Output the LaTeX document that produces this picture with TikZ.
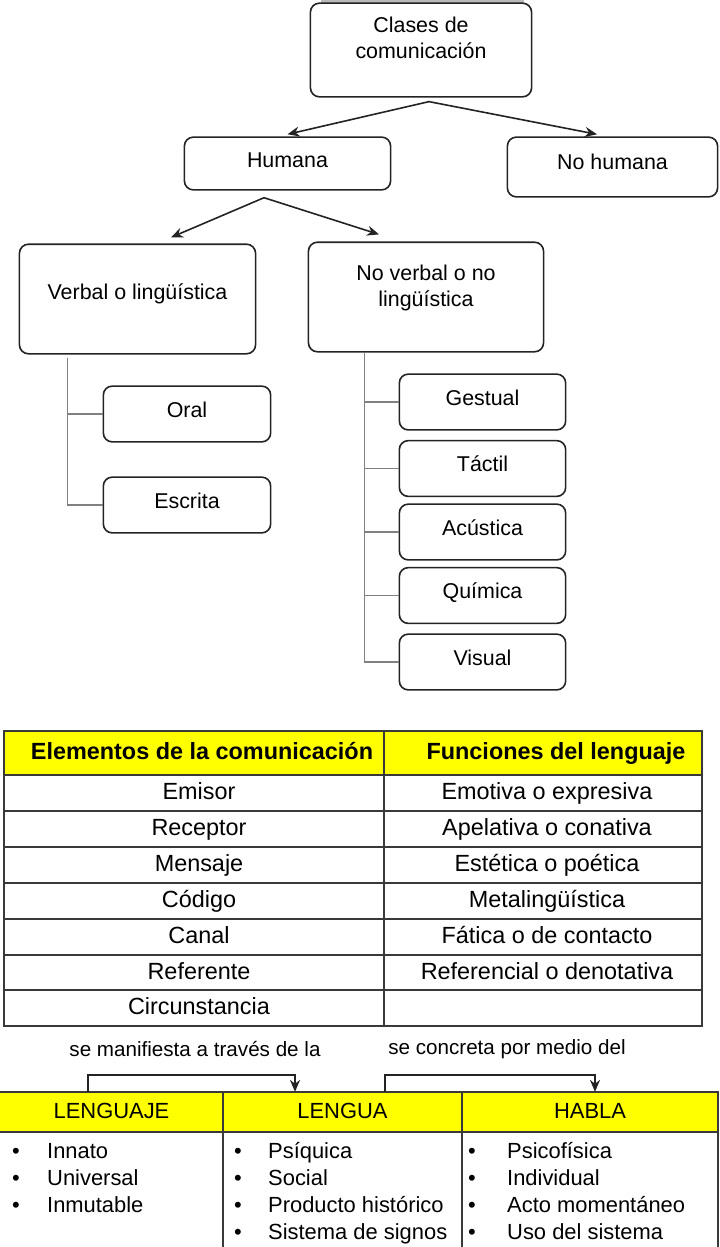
\documentclass[tikz,border=0pt]{standalone}
\usepackage{fontspec}
\setmainfont{Liberation Sans}
\usetikzlibrary{arrows.meta}
\definecolor{amarillo}{RGB}{255,255,0}
\definecolor{borde}{RGB}{35,35,35}
\tikzset{
  caja/.style={draw=borde, line width=1.6bp, rounded corners=9bp, align=center,
    font=\fontsize{21.5}{26}\selectfont},
  una/.style={text height=16bp, text depth=#1},
  rama/.style={draw=gray, line width=1.5bp},
  flecha/.style={draw=borde, line width=1.6bp, ->},
  tabla/.style={draw=borde!90, line width=1.8bp},
  cabeza/.style={font=\bfseries\fontsize{23.5}{28}\selectfont, text height=17bp, text depth=5bp},
  celda/.style={font=\fontsize{23.5}{28}\selectfont, text height=17bp, text depth=5bp},
  nota/.style={font=\fontsize{20.7}{25}\selectfont},
  cab2/.style={font=\fontsize{22}{26}\selectfont, text height=16bp, text depth=5bp},
  item/.style={font=\fontsize{22}{26}\selectfont, anchor=base west, inner sep=0pt}
}
\begin{document}
\begin{tikzpicture}[x=1bp, y=-1bp, >={Stealth[length=12bp,width=10bp]}]
  \useasboundingbox (0,0) rectangle (720,1247);
  \fill[gray!55] (321,0) rectangle (524,3.5);
  % clases
  \node[caja, text depth=25bp, minimum width=222, minimum height=94] (cl) at (421,50) {Clases de\\comunicaci\'on};
  \node[caja, una=8bp, minimum width=207, minimum height=53] (hum) at (287.5,163.5) {Humana};
  \node[caja, una=11bp, minimum width=211, minimum height=60] (nohum) at (612.5,167) {No humana};
  \draw[flecha] ([xshift=8bp,yshift=-4bp]cl.south) -- ([yshift=2bp]hum.north);
  \draw[flecha] ([xshift=8bp,yshift=-4bp]cl.south) -- ([xshift=-15.5bp,yshift=2bp]nohum.north);
  \node[caja, una=15bp, minimum width=237, minimum height=110] (verb) at (137.5,299) {Verbal o lingüística};
  \node[caja, text depth=22bp, minimum width=236, minimum height=110] (nover) at (426,297) {No verbal o no\\lingüística};
  \draw[flecha] ([xshift=-23.5bp,yshift=-7bp]hum.south) -- ([xshift=33.5bp,yshift=6bp]verb.north);
  \draw[flecha] ([xshift=-23.5bp,yshift=-7bp]hum.south) -- ([xshift=-47bp,yshift=7bp]nover.north);
  % verbal
  \node[caja, una=9bp, minimum width=168, minimum height=56] (oral) at (187,414) {Oral};
  \node[caja, una=9bp, minimum width=168, minimum height=56] (escr) at (187,505) {Escrita};
  \draw[rama] (verb.south west) ++(49,3) |- (oral.west);
  \draw[rama] (verb.south west) ++(49,3) |- (escr.west);
  % no verbal
  \foreach \t/\y/\n in {Gestual/402/gest, Táctil/468.5/tac, Acústica/532/acu, Química/595.5/qui, Visual/662/vis}{
    \node[caja, una=10bp, minimum width=167, minimum height=56] (\n) at (482.5,\y) {\t};
    \draw[rama] (nover.south west) ++(57,0) |- (\n.west);
  }
  % elementos y funciones
  \fill[amarillo] (4,731) rectangle (702,775);
  \draw[tabla] (4,731) rectangle (702,1026);
  \draw[tabla] (384,731) -- (384,1026);
  \foreach \y in {775,811,847,883,919,955,990} \draw[tabla] (4,\y) -- (702,\y);
  \node[cabeza] (elem) at (202,753) {Elementos de la comunicación};
  \node[cabeza] (func) at (556,753) {Funciones del lenguaje};
  \foreach \e/\f [count=\i] in {Emisor/Emotiva o expresiva, Receptor/Apelativa o conativa,
      Mensaje/Estética o poética, Código/Metalingüística, Canal/Fática o de contacto,
      Referente/Referencial o denotativa}{
    \node[celda] (el\i) at (199,757+36*\i) {\e};
    \node[celda] (fu\i) at (547,757+36*\i) {\f};
  }
  \node[celda] (el7) at (199,1008) {Circunstancia};
  \node[nota] (manif) at (195,1049) {se manifiesta a través de la};
  \node[nota] (concr) at (507,1049) {se concreta por medio del};
  % lenguaje, lengua, habla
  \fill[amarillo] (0,1092) rectangle (718,1132);
  \draw[tabla] (0,1092) -- (718,1092) -- (718,1247);
  \draw[tabla] (0,1132) -- (718,1132);
  \draw[tabla] (223,1092) -- (223,1247);
  \draw[tabla] (462,1092) -- (462,1247);
  \node[cab2, minimum width=223, minimum height=40] (lje) at (111.5,1113) {LENGUAJE};
  \node[cab2, minimum width=239, minimum height=40] (lga) at (342.5,1113) {LENGUA};
  \node[cab2, minimum width=256, minimum height=40] (hab) at (590,1113) {HABLA};
  \draw[flecha] ([xshift=-23.5bp,yshift=1bp]lje.north) -- ++(0,-17) -| ([xshift=-47.5bp,yshift=1bp]lga.north);
  \draw[flecha] ([xshift=42.5bp,yshift=1bp]lga.north) -- ++(0,-17) -| ([xshift=5bp,yshift=1bp]hab.north);
  \foreach \t [count=\i] in {Innato,Universal,Inmutable}
    \node[item] (lje\i) at (12,1130.7+27.3*\i) {\makebox[35bp][l]{\textbullet}\t};
  \foreach \t [count=\i] in {Psíquica,Social,Producto histórico,Sistema de signos}
    \node[item] (lga\i) at (234,1130.7+27.3*\i) {\makebox[34bp][l]{\textbullet}\t};
  \foreach \t [count=\i] in {Psicofísica,Individual,Acto momentáneo,Uso del sistema}
    \node[item] (hab\i) at (468,1130.7+27.3*\i) {\makebox[39bp][l]{\textbullet}\t};
\end{tikzpicture}
\end{document}
